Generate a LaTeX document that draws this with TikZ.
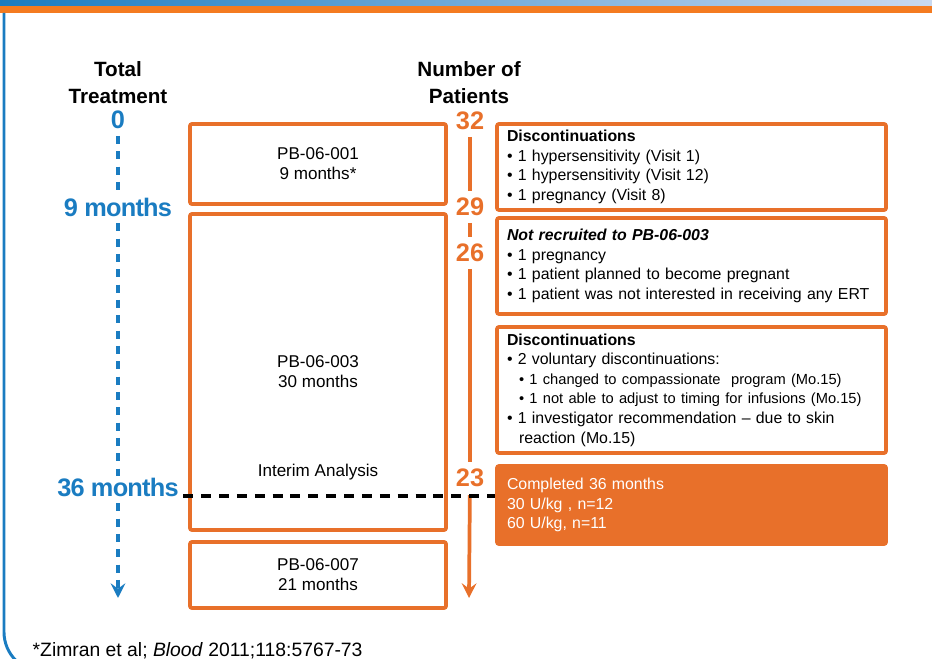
\documentclass[tikz,border=0pt]{standalone}
\usepackage{fontspec}
\setmainfont{Liberation Sans}
\newfontfamily\tightsans[LetterSpace=-3]{Liberation Sans}
\usetikzlibrary{calc,arrows.meta}
\definecolor{pborange}{HTML}{E8702A}
\definecolor{pbblue}{HTML}{1A7CC1}
\definecolor{hdrorange}{HTML}{F47B20}
\definecolor{hdrlight}{HTML}{C9D9EF}
\tikzset{
    study/.style = {
        draw=pborange, line width=2.8pt, rounded corners=1.5pt,
        minimum width=192pt, align=center,
        font=\fontsize{12.8}{15}\selectfont
    },
    note/.style = {
        draw=pborange, line width=2.8pt, rounded corners=1.5pt,
        text width=276.75pt, inner xsep=7.5pt, align=left,
        font=\fontsize{11.9}{14.7}\selectfont
    },
    heading/.style = {
        align=center, font=\fontsize{15.5}{20.3}\selectfont\bfseries
    },
    month/.style = {
        text=pbblue, inner sep=1pt, font=\fontsize{19}{22}\selectfont\tightsans\bfseries
    },
    count/.style = {
        text=pborange, inner sep=1pt, font=\fontsize{19}{22}\selectfont\bfseries
    },
    endtip/.style = {-{Stealth[length=11pt, width=11pt, inset=4pt]}}
}
\newcommand{\sub}{\hspace*{9pt}}
\newcommand{\subfont}{\fontsize{11}{14.7}\selectfont}

\begin{document}
\begin{tikzpicture}[x=0.75pt,y=-0.75pt]

\useasboundingbox (0,0) rectangle (932,659);
\clip (0,0) rectangle (932,659);

% 1. header band and frame
\shade[left color=pbblue, right color=hdrlight] (0,0) rectangle (932,6);
\fill[hdrorange] (0,6) rectangle (932,13);
\draw[pbblue, line width=2.2pt, rounded corners=30pt] (4,13) -- (4,672) -- (120,672);

% 2. column headings
\node[heading] (total)   at (118,83) {Total\\Treatment};
\node[heading] (patients) at (469,83) {Number of\\Patients};

% 3. time axis
\node[month] (m0)  at (118,120) {0};
\node[month] (m9)  at (118,207) {9 months};
\node[month] (m36) at (118,487) {36 months};
\coordinate (tend) at (118,598);

% 4. patient counts
\node[count] (n32) at (470,121) {32};
\node[count] (n29) at (470,207) {29};
\node[count] (n26) at (470,253) {26};
\node[count] (n23) at (470,478) {23};
\coordinate (nend) at (469,598);

% 5. study boxes
\node[study, minimum height=60pt]  (s001) at (318,164) {PB-06-001\\9 months*};
\node[study, minimum height=237pt] (s003) at (318,372) {};
\node[study, minimum height=49.5pt] (s007) at (318,575) {PB-06-007\\21 months};
\node[font=\fontsize{12.8}{15}\selectfont, align=center] (s003a) at (318,372) {PB-06-003\\30 months};
\node[font=\fontsize{12.8}{15}\selectfont] (interim) at (318,472) {Interim Analysis};

% 6. note boxes
\node[note, minimum height=64.5pt] (disc1) at (691.5,167) {%
\textbf{Discontinuations}\\
• 1 hypersensitivity (Visit 1)\\
• 1 hypersensitivity (Visit 12)\\
• 1 pregnancy (Visit 8)};
\node[note, minimum height=72pt] (notrec) at (691.5,266) {%
\textbf{\textit{Not recruited to PB-06-003}}\\
• 1 pregnancy\\
• 1 patient planned to become pregnant\\
• 1 patient was not interested in receiving any ERT};
\node[note, minimum height=94.5pt] (disc2) at (691.5,390) {%
\textbf{Discontinuations}\\
• 2 voluntary discontinuations:\\
{\subfont\sub• 1 changed to compassionate\ \ program (Mo.15)}\\
{\subfont\sub• 1 not able to adjust to timing for infusions (Mo.15)}\\
• 1 investigator recommendation -- due to skin\\
\sub reaction (Mo.15)};
\node[note, fill=pborange, text=white, minimum height=58.5pt] (done) at (691.5,505) {%
Completed 36 months\\
30 U/kg , n=12\\
60 U/kg, n=11};

% 7. axis lines
\draw[pbblue, line width=2.4pt, dash pattern=on 6pt off 5.5pt, shorten <=4pt, shorten >=4pt] (m0) -- (m9);
\draw[pbblue, line width=2.4pt, dash pattern=on 6pt off 5.5pt, shorten <=4pt] (m9) -- (m36);
\draw[pbblue, line width=2.4pt, dash pattern=on 6pt off 5.5pt, shorten <=4pt, endtip] (m36) -- (tend);
\draw[pborange, line width=2.8pt, shorten <=4pt, shorten >=4pt] (n32) -- (n29);
\draw[pborange, line width=2.8pt, shorten <=4pt, shorten >=4pt] (n29) -- (n26);
\draw[pborange, line width=2.8pt, shorten <=4pt, shorten >=4pt] (n26) -- (n23);
\draw[pborange, line width=2.8pt, shorten <=5pt, endtip] (n23) -- (nend);

% 8. cut-off line at 36 months
\draw[line width=3pt, dash pattern=on 7.5pt off 5.9pt] ($(m36.base east)+(3,0)$) -- (done.west |- m36.base);

% 9. footnote
\node[anchor=west, font=\fontsize{14.5}{17}\selectfont] (ref) at (28,651) {*Zimran et al; \textit{Blood} 2011;118:5767-73};

\end{tikzpicture}
\end{document}
